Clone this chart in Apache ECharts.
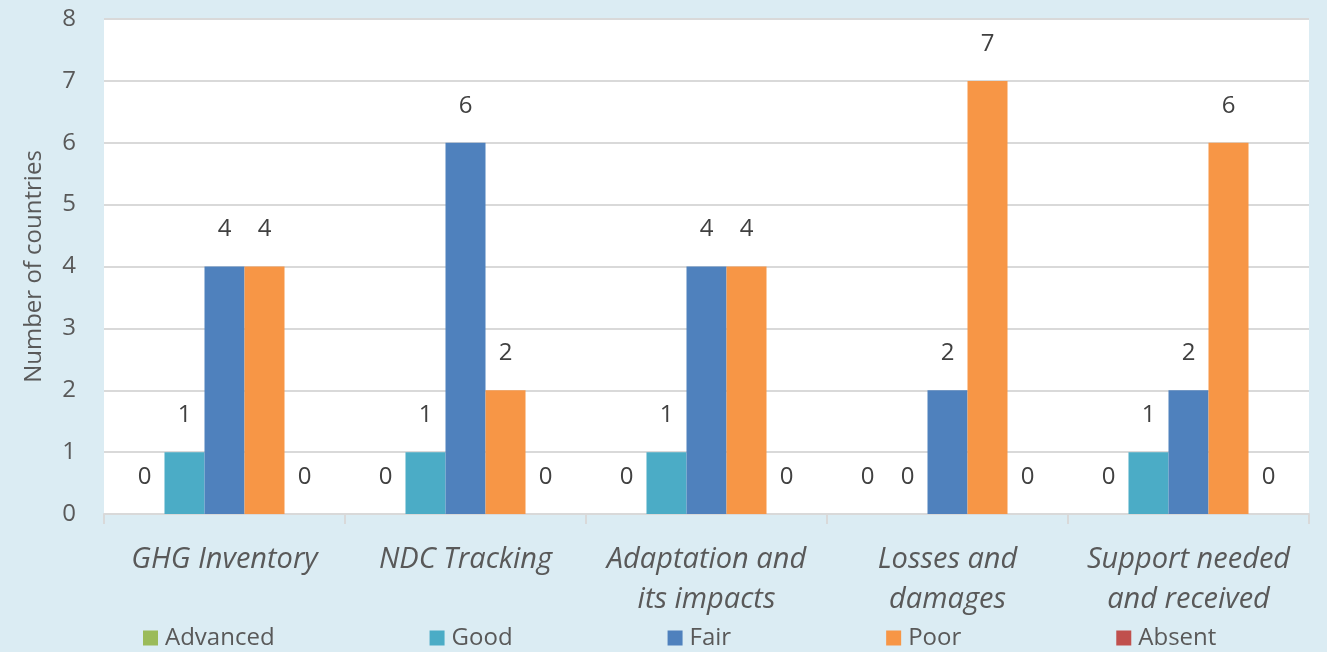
<!DOCTYPE html>
<html>
<head>
<meta charset="utf-8">
<script src="https://cdn.jsdelivr.net/npm/echarts@6/dist/echarts.min.js"></script>
<style>
  html, body { margin: 0; padding: 0; background: #dbecf3; }
  #chart { width: 1327px; height: 652px; }
</style>
</head>
<body>
<div id="chart"></div>
<script>
// Reporting areas and how many countries fall in each quality level
const categories = ['GHG Inventory', 'NDC Tracking', 'Adaptation and\nits impacts', 'Losses and\ndamages', 'Support needed\nand received'];
const advanced = [0, 0, 0, 0, 0];
const good     = [1, 1, 1, 0, 1];
const fair     = [4, 6, 4, 2, 2];
const poor     = [4, 2, 4, 7, 6];
const absent   = [0, 0, 0, 0, 0];
const yTicks = { min: 0, max: 8, interval: 1 };

const FONT = '"Open Sans", "Noto Sans", sans-serif';
const levels = [
  { name: 'Advanced', data: advanced, color: '#9bbb59' },
  { name: 'Good',     data: good,     color: '#4bacc6' },
  { name: 'Fair',     data: fair,     color: '#4f81bd' },
  { name: 'Poor',     data: poor,     color: '#f79646' },
  { name: 'Absent',   data: absent,   color: '#c0504d' }
];

const chart = echarts.init(document.getElementById('chart'), null, { renderer: 'canvas' });
chart.setOption({
  backgroundColor: '#dbecf3',
  animation: false,
  textStyle: { fontFamily: FONT },
  grid: {
    left: 104, right: 18, top: 19, bottom: 138,
    show: true, backgroundColor: '#ffffff', borderWidth: 0
  },
  legend: {
    bottom: -3,
    left: 138,
    itemWidth: 15, itemHeight: 15,
    itemGap: 155,
    icon: 'rect',
    textStyle: { fontSize: 24, color: '#595959', fontFamily: FONT, padding: [0, 0, 0, 2] },
    data: levels.map(l => l.name)
  },
  xAxis: {
    type: 'category',
    data: categories,
    axisLine: { show: true, lineStyle: { color: '#d9d9d9', width: 2 } },
    axisTick: { show: true, alignWithLabel: false, length: 10, lineStyle: { color: '#d9d9d9', width: 2 } },
    axisLabel: {
      fontSize: 29, fontStyle: 'italic', color: '#595959', lineHeight: 40,
      margin: 26, fontFamily: FONT, interval: 0
    }
  },
  yAxis: {
    type: 'value',
    min: yTicks.min, max: yTicks.max, interval: yTicks.interval,
    name: 'Number of countries',
    nameLocation: 'middle',
    nameGap: 58,
    nameTextStyle: { fontSize: 24, color: '#595959', fontFamily: FONT },
    axisLine: { show: false },
    axisTick: { show: false },
    axisLabel: { fontSize: 24, color: '#595959', margin: 28, fontFamily: FONT },
    splitLine: { lineStyle: { color: '#d9d9d9', width: 2 } }
  },
  series: levels.map(l => ({
    name: l.name,
    type: 'bar',
    data: l.data,
    barGap: '0%',
    barCategoryGap: '17%',
    itemStyle: { color: l.color },
    label: {
      show: true, position: 'top', distance: 25,
      fontSize: 24, color: '#404040', fontFamily: FONT
    }
  }))
});
</script>
</body>
</html>
